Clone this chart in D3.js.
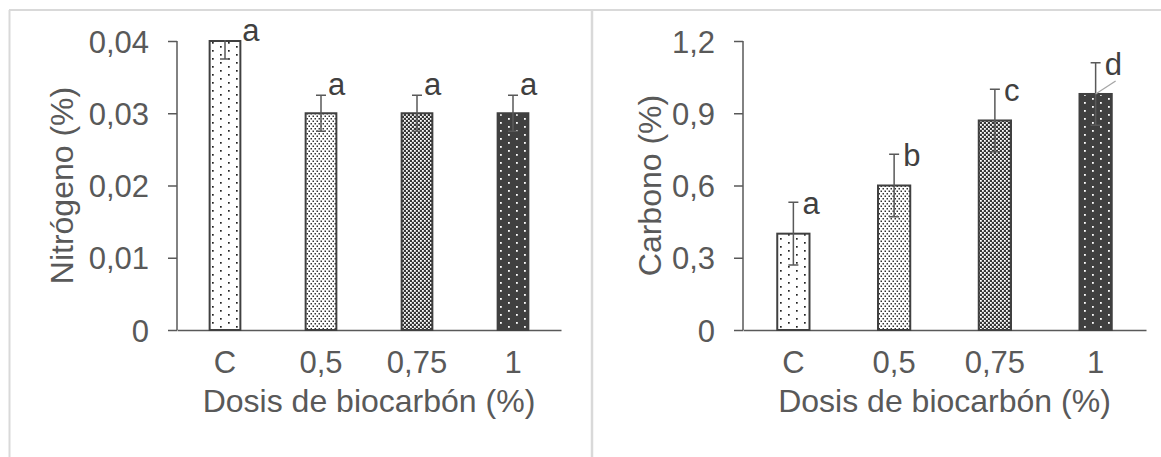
<!DOCTYPE html>
<html>
<head>
<meta charset="utf-8">
<script src="https://cdn.jsdelivr.net/npm/d3@7"></script>
<style>
  body { margin: 0; background: #fff; }
  text { font-family: "Liberation Sans", Arial, sans-serif; }
</style>
</head>
<body>
<div id="chart"></div>
<script>
// Two bar charts: nitrogen and carbon by biochar dose

// Data
const categories = ["C", "0,5", "0,75", "1"];
const nitrogen = [0.04, 0.03, 0.03, 0.03];
const nitrogenErr = [0.0025, 0.0025, 0.0025, 0.0025];
const nitrogenLetters = ["a", "a", "a", "a"];
const nitrogenTicks = [0, 0.01, 0.02, 0.03, 0.04];
const carbon = [0.40, 0.60, 0.87, 0.98];
const carbonErr = [0.13, 0.13, 0.13, 0.13];
const carbonLetters = ["a", "b", "c", "d"];
const carbonTicks = [0, 0.3, 0.6, 0.9, 1.2];
const patterns = ["pC", "p05", "p075", "p1"];

const width = 1161;
const height = 457;
const plotTop = 41;
const plotBottom = 330;
const textColor = "#595959";

// spanish decimal comma
const locale = d3.formatLocale({decimal: ",", thousands: ".", grouping: [3], currency: ["", "€"]});
const fmt = locale.format("~g");

const svg = d3.select("#chart")
    .append("svg")
    .attr("width", width)
    .attr("height", height);

// fill patterns
const defs = svg.append("defs");

function dotPattern(id, w, h, bg, fg, dots, size) {
    const p = defs.append("pattern")
        .attr("id", id)
        .attr("patternUnits", "userSpaceOnUse")
        .attr("width", w)
        .attr("height", h);
    p.append("rect").attr("width", w).attr("height", h).attr("fill", bg);
    dots.forEach(d => {
        p.append("rect")
            .attr("x", d[0]).attr("y", d[1])
            .attr("width", size).attr("height", size)
            .attr("fill", fg);
    });
}
dotPattern("pC", 16, 8, "#fff", "#222", [[4, 2], [12, 6]], 1.7);
dotPattern("p05", 4, 5, "#fff", "#333", [[0.5, 0.5], [2.5, 3]], 1.5);
dotPattern("p075", 4, 4, "#363636", "#fff", [[0, 0], [2, 2]], 1.8);
dotPattern("p1", 16, 8, "#404040", "#fff", [[4, 2], [12, 6]], 1.8);

// frame lines
svg.append("line").attr("x1", 9).attr("x2", width).attr("y1", 10).attr("y2", 10)
    .attr("stroke", "#d9d9d9").attr("stroke-width", 2);
svg.append("line").attr("x1", 9.5).attr("x2", 9.5).attr("y1", 10).attr("y2", height)
    .attr("stroke", "#d9d9d9").attr("stroke-width", 2);
svg.append("line").attr("x1", 592).attr("x2", 592).attr("y1", 10).attr("y2", height)
    .attr("stroke", "#d9d9d9").attr("stroke-width", 2.5);

function drawPanel(o) {
    const g = svg.append("g");

    const x = d3.scaleBand()
        .domain(categories)
        .range([o.left, o.right])
        .paddingInner(0.68)
        .paddingOuter(0.34);

    const y = d3.scaleLinear()
        .domain([0, o.yMax])
        .range([plotBottom, plotTop]);

    // y axis
    const yAxis = g.append("g")
        .attr("transform", "translate(" + o.left + ",0)")
        .call(d3.axisLeft(y).tickValues(o.ticks).tickFormat(fmt).tickSize(9).tickPadding(19));
    yAxis.select(".domain").attr("stroke", textColor).attr("stroke-width", 1.5)
        .attr("d", "M0," + plotTop + "V" + plotBottom);
    yAxis.selectAll(".tick line").attr("stroke", textColor).attr("stroke-width", 1.5);
    yAxis.selectAll(".tick text")
        .attr("fill", textColor)
        .attr("font-size", "31px")
        .attr("dy", "0.36em");

    // x axis
    const xAxis = g.append("g")
        .attr("transform", "translate(0," + plotBottom + ")")
        .call(d3.axisBottom(x).tickSize(0).tickPadding(21));
    xAxis.select(".domain").attr("stroke", textColor).attr("stroke-width", 1.5);
    xAxis.selectAll(".tick text")
        .attr("fill", textColor)
        .attr("font-size", "31px")
        .attr("dy", "0.71em");

    const clipId = "clip" + o.id;
    svg.select("defs").append("clipPath").attr("id", clipId)
        .append("rect")
        .attr("x", o.left).attr("y", plotTop - 1)
        .attr("width", o.right - o.left).attr("height", plotBottom - plotTop + 1);

    const rows = categories.map((c, i) => ({cat: c, v: o.values[i], e: o.errors[i], l: o.letters[i], p: patterns[i]}));

    // bars
    g.selectAll("rect.bar")
        .data(rows)
        .enter()
        .append("rect")
        .attr("class", "bar")
        .attr("x", d => x(d.cat))
        .attr("y", d => y(d.v))
        .attr("width", x.bandwidth())
        .attr("height", d => plotBottom - y(d.v))
        .attr("fill", d => "url(#" + d.p + ")")
        .attr("stroke", "#404040")
        .attr("stroke-width", 2);

    // error bars, clipped to the plot area
    const err = g.append("g").attr("clip-path", "url(#" + clipId + ")")
        .attr("stroke", textColor).attr("stroke-width", 1.5).attr("fill", "none");
    const cx = d => x(d.cat) + x.bandwidth() / 2;
    err.selectAll("path")
        .data(rows)
        .enter()
        .append("path")
        .attr("d", d => {
            const t = y(d.v + d.e), b = y(d.v - d.e), c = cx(d);
            return "M" + c + "," + t + "V" + b +
                "M" + (c - 5) + "," + t + "H" + (c + 5) +
                "M" + (c - 5) + "," + b + "H" + (c + 5);
        });

    // leader line for the last label
    if (o.leader) {
        const d = rows[rows.length - 1];
        g.append("line")
            .attr("x1", cx(d)).attr("y1", y(d.v))
            .attr("x2", cx(d) + 20).attr("y2", y(d.v) - 13)
            .attr("stroke", "#a6a6a6").attr("stroke-width", 1.3);
    }

    // significance letters
    g.selectAll("text.letter")
        .data(rows)
        .enter()
        .append("text")
        .attr("class", "letter")
        .attr("x", d => y(d.v + d.e) < plotTop ? x(d.cat) + x.bandwidth() + 2 : cx(d) + o.labelDx)
        .attr("y", d => Math.max(y(d.v + d.e), plotTop) + o.labelDy)
        .attr("font-size", "31px")
        .attr("fill", "#404040")
        .text(d => d.l);

    // axis titles
    g.append("text")
        .attr("transform", "translate(" + o.titleX + "," + ((plotTop + plotBottom) / 2) + ") rotate(-90)")
        .attr("text-anchor", "middle")
        .attr("font-size", "32px")
        .attr("fill", textColor)
        .text(o.title);

    g.append("text")
        .attr("x", (o.left + o.right) / 2)
        .attr("y", 412)
        .attr("text-anchor", "middle")
        .attr("font-size", "32px")
        .attr("fill", textColor)
        .text("Dosis de biocarbón (%)");
}

drawPanel({
    id: "N", left: 177, right: 561, yMax: 0.04,
    values: nitrogen, errors: nitrogenErr, letters: nitrogenLetters, ticks: nitrogenTicks,
    title: "Nitrógeno (%)", titleX: 73, labelDx: 7, labelDy: 0, leader: false
});

drawPanel({
    id: "C", left: 743, right: 1146, yMax: 1.2,
    values: carbon, errors: carbonErr, letters: carbonLetters, ticks: carbonTicks,
    title: "Carbono (%)", titleX: 661, labelDx: 9, labelDy: 12, leader: true
});
</script>
</body>
</html>
